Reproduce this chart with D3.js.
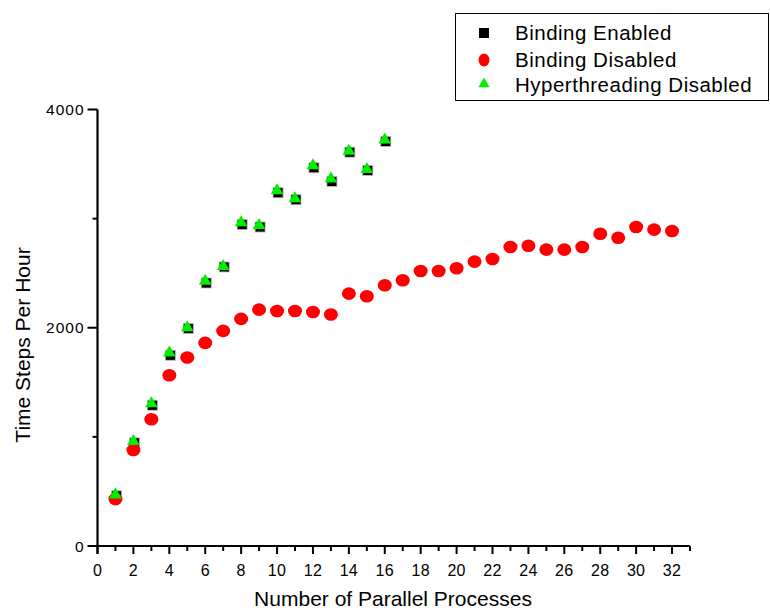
<!DOCTYPE html>
<html>
<head>
<meta charset="utf-8">
<script src="https://cdn.jsdelivr.net/npm/d3@7"></script>
<style>
  body { margin: 0; background: #fff; }
  svg { display: block; font-family: "Liberation Sans", Arial, sans-serif; }
</style>
</head>
<body>
<svg id="chart" width="770" height="612"></svg>
<script>
// ---- data ----
const processes = [1,2,3,4,5,6,7,8,9,10,11,12,13,14,15,16,17,18,19,20,21,22,23,24,25,26,27,28,29,30,31,32];
const bindingEnabled = [460,945,1290,1748,1993,2410,2557,2947,2923,3237,3173,3466,3341,3609,3442,3707];
const htDisabled = [470,960,1306,1770,2002,2428,2563,2963,2938,3258,3183,3487,3365,3618,3451,3723];
const bindingDisabled = [430,880,1162,1565,1727,1861,1971,2081,2166,2154,2154,2145,2121,2313,2288,2389,
                         2435,2520,2520,2545,2606,2630,2740,2752,2716,2716,2740,2862,2825,2923,2899,2886];
const xTickLabels = [0,2,4,6,8,10,12,14,16,18,20,22,24,26,28,30,32];
const yTickLabels = [0,2000,4000];
const yMinorTicks = [1000,3000];
const legendItems = ["Binding Enabled","Binding Disabled","Hyperthreading Disabled"];

const svg = d3.select("#chart");
const x = d3.scaleLinear().domain([0,33]).range([97.5,690]);
const y = d3.scaleLinear().domain([0,4000]).range([546,109.5]);

// x axis
const xAxisG = svg.append("g").attr("transform",`translate(0,${y(0)})`);
xAxisG.append("line").attr("x1",x(0)-9).attr("x2",x(33)).attr("y1",0).attr("y2",0)
  .attr("stroke","#000").attr("stroke-width",2.2);
const xAllTicks = d3.range(0,34);
xAxisG.selectAll("line.tk").data(xAllTicks).join("line").attr("class","tk")
  .attr("x1",d=>x(d)).attr("x2",d=>x(d)).attr("y1",0)
  .attr("y2",d=> d%2===0 ? 8 : 5)
  .attr("stroke","#000").attr("stroke-width",2);
xAxisG.selectAll("text").data(xTickLabels).join("text")
  .attr("x",d=>x(d)).attr("y",30).attr("text-anchor","middle")
  .attr("font-size",16).attr("letter-spacing",0.3).text(d=>d);

// y axis
const yAxisG = svg.append("g").attr("transform",`translate(${x(0)},0)`);
yAxisG.append("line").attr("x1",0).attr("x2",0).attr("y1",y(4000)).attr("y2",y(0)+8)
  .attr("stroke","#000").attr("stroke-width",2.2);
yAxisG.selectAll("line.mj").data(yTickLabels).join("line").attr("class","mj")
  .attr("x1",-10).attr("x2",0).attr("y1",d=>y(d)).attr("y2",d=>y(d))
  .attr("stroke","#000").attr("stroke-width",2);
yAxisG.selectAll("line.mn").data(yMinorTicks).join("line").attr("class","mn")
  .attr("x1",-5).attr("x2",0).attr("y1",d=>y(d)).attr("y2",d=>y(d))
  .attr("stroke","#000").attr("stroke-width",2);
yAxisG.selectAll("text").data(yTickLabels).join("text")
  .attr("x",-13).attr("y",d=>y(d)+5.5).attr("text-anchor","end")
  .attr("font-size",15.5).attr("letter-spacing",1).text(d=>d);

// axis titles
svg.append("text").attr("x",393).attr("y",606).attr("text-anchor","middle")
  .attr("font-size",21).text("Number of Parallel Processes");
svg.append("text").attr("transform","translate(30,345) rotate(-90)").attr("text-anchor","middle")
  .attr("font-size",21).text("Time Steps Per Hour");

// marks
const sq = 10;
svg.append("g").selectAll("rect").data(bindingEnabled).join("rect")
  .attr("x",(d,i)=>x(processes[i])-sq/2+1).attr("y",d=>y(d)-sq/2)
  .attr("width",sq).attr("height",sq).attr("fill","#000")
  .attr("stroke","#bbb").attr("stroke-width",0.8);

svg.append("g").selectAll("ellipse").data(bindingDisabled).join("ellipse")
  .attr("cx",(d,i)=>x(processes[i])).attr("cy",d=>y(d))
  .attr("rx",7).attr("ry",6.3).attr("fill","#ff0000");

const tri = d3.symbol().type(d3.symbolTriangle).size(70);
svg.append("g").selectAll("path").data(htDisabled).join("path")
  .attr("transform",(d,i)=>`translate(${x(processes[i])},${y(d)})`)
  .attr("d",tri).attr("fill","#00ee00");

// legend
const lg = svg.append("g");
lg.append("rect").attr("x",455.5).attr("y",13.5).attr("width",313).attr("height",87)
  .attr("fill","#fff").attr("stroke","#000").attr("stroke-width",1);
const rowY = [33,60,84];
const baseY = [40,66.5,92];
lg.append("rect").attr("x",484-5).attr("y",rowY[0]-5).attr("width",10).attr("height",10).attr("fill","#000");
lg.append("ellipse").attr("cx",484).attr("cy",rowY[1]).attr("rx",5.5).attr("ry",6.5).attr("fill","#ff0000");
lg.append("path").attr("transform",`translate(484,${rowY[2]})`).attr("d",d3.symbol().type(d3.symbolTriangle).size(55)).attr("fill","#00ee00");
lg.selectAll("text").data(legendItems).join("text")
  .attr("x",515).attr("y",(d,i)=>baseY[i]).attr("font-size",20.5).attr("letter-spacing",0.5)
  .text(d=>d);
</script>
</body>
</html>
